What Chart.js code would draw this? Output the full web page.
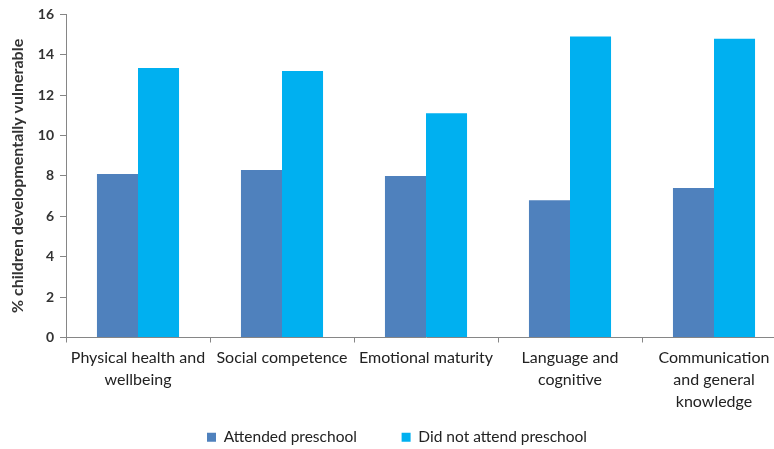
<!DOCTYPE html>
<html>
<head>
<meta charset="utf-8">
<script src="https://cdn.jsdelivr.net/npm/chart.js@4"></script>
<style>
  html, body { margin: 0; padding: 0; background: #fff; overflow: hidden; }
  #wrap { position: relative; width: 786px; height: 449px; }
</style>
</head>
<body>
<div id="wrap"><canvas id="domainsChart" width="786" height="449"></canvas></div>
<script>
// AEDC domains, share of children developmentally vulnerable
const domains = [
    ['Physical health and', 'wellbeing'],
    ['Social competence'],
    ['Emotional maturity'],
    ['Language and', 'cognitive'],
    ['Communication', 'and general', 'knowledge']
];
const attended = [8.1, 8.3, 8.0, 6.8, 7.4];
const notAttended = [13.35, 13.2, 11.1, 14.9, 14.8];
const yTicks = [0, 2, 4, 6, 8, 10, 12, 14, 16];

const axisGrey = '#868686';
const fontFamily = 'Lato, "Open Sans", sans-serif';
const labelFont = { family: fontFamily, size: 16, lineHeight: 1.375 };

document.addEventListener('DOMContentLoaded', function() {
    const ctx = document.getElementById('domainsChart').getContext('2d');
    new Chart(ctx, {
        type: 'bar',
        data: {
            labels: domains,
            datasets: [{
                label: 'Attended preschool',
                data: attended,
                backgroundColor: '#4F81BD',
                borderWidth: 0
            }, {
                label: 'Did not attend preschool',
                data: notAttended,
                backgroundColor: '#00B0F0',
                borderWidth: 0
            }]
        },
        options: {
            responsive: false,
            animation: false,
            layout: { padding: { top: 13, left: 8, right: 0, bottom: -6 } },
            categoryPercentage: 0.57,
            barPercentage: 1,
            plugins: {
                tooltip: { enabled: false },
                legend: {
                    position: 'bottom',
                    labels: {
                        boxWidth: 9,
                        boxHeight: 9,
                        padding: 13,
                        color: '#222',
                        font: { family: fontFamily, size: 15.5 },
                        // wider gap between the two entries
                        generateLabels: function(chart) {
                            const items = Chart.defaults.plugins.legend.labels.generateLabels(chart);
                            items[0].text += '        ';
                            return items;
                        }
                    }
                }
            },
            scales: {
                x: {
                    grid: {
                        offset: true,
                        drawOnChartArea: false,
                        color: axisGrey,
                        tickLength: 5
                    },
                    border: { color: axisGrey, width: 1 },
                    ticks: {
                        color: '#222',
                        font: labelFont,
                        maxRotation: 0,
                        autoSkip: false,
                        padding: 4
                    }
                },
                y: {
                    min: 0,
                    max: 16,
                    afterBuildTicks: function(scale) {
                        scale.ticks = yTicks.map(v => ({ value: v }));
                    },
                    afterFit: function(scale) {
                        scale.width = 58;
                    },
                    grid: {
                        drawOnChartArea: false,
                        color: axisGrey,
                        tickLength: 6
                    },
                    border: { color: axisGrey, width: 1 },
                    ticks: {
                        color: '#333',
                        font: { family: fontFamily, size: 14, weight: 'bold' },
                        padding: 6
                    },
                    title: {
                        display: true,
                        text: '% children developmentally vulnerable',
                        color: '#333',
                        font: { family: fontFamily, size: 16, weight: 'bold' },
                        padding: 0
                    }
                }
            }
        }
    });
});
</script>
</body>
</html>
